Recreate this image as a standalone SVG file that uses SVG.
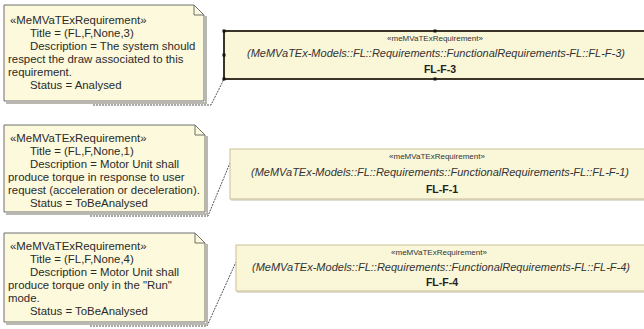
<svg xmlns="http://www.w3.org/2000/svg" width="644" height="329" viewBox="0 0 644 329">
<style>
.note{fill:#fcf9dc;stroke:#6e6e6e;stroke-width:1}
.shadow{fill:none;stroke:#b8b8b0;stroke-width:2}
.fold{fill:none;stroke:#6e6e6e;stroke-width:1}
.nt{font-family:"Liberation Sans",Arial,sans-serif;font-size:11.4px;fill:#2a2a2a}
.box{fill:#faf6d8;stroke:#c9bf95;stroke-width:1}
.bsh{fill:none;stroke:#d6d2c4;stroke-width:1.5}
.boxsel{fill:#faf6d8;stroke:#3a3326;stroke-width:2}
.st{font-family:"Liberation Sans",Arial,sans-serif;font-size:8px;fill:#333;text-anchor:middle}
.it{font-family:"Liberation Sans",Arial,sans-serif;font-size:11px;font-style:italic;fill:#333;text-anchor:middle}
.nm{font-family:"Liberation Sans",Arial,sans-serif;font-size:10.5px;font-weight:bold;fill:#222;text-anchor:middle}
.conn{fill:none;stroke:#555;stroke-width:1;stroke-dasharray:2,1}
.h{fill:#111}
</style>
<g id="connectors">
<polyline class="conn" points="93,105 211,105 224,79"/>
<polyline class="conn" points="90,216 208,216 230,163"/>
<polyline class="conn" points="90,326 207,326 236,262"/>
</g>
<g id="note1">
<path class="shadow" d="M206,16 V103 H6"/>
<path class="note" d="M4,5 H194 L204,15 V101 H4 Z"/>
<path class="fold" d="M194,5 V15 H204"/>
<text class="nt" x="10" y="24">«MeMVaTExRequirement»</text>
<text class="nt" x="30" y="37">Title = (FL,F,None,3)</text>
<text class="nt" x="30" y="50">Description = The system should</text>
<text class="nt" x="8" y="63">respect the draw associated to this</text>
<text class="nt" x="8" y="76">requirement.</text>
<text class="nt" x="30" y="89">Status = Analysed</text>
</g>
<g id="req1">
<rect class="boxsel" x="224" y="31" width="424" height="48"/>
<rect class="h" x="222.5" y="29.5" width="3" height="3"/>
<rect class="h" x="433.5" y="29.5" width="3" height="3"/>
<rect class="h" x="222.5" y="53.5" width="3" height="3"/>
<rect class="h" x="222.5" y="77.5" width="3" height="3"/>
<rect class="h" x="433.5" y="77.5" width="3" height="3"/>
<text class="st" x="435" y="41">«meMVaTExRequirement»</text>
<text class="it" x="436" y="57">(MeMVaTEx-Models::FL::Requirements::FunctionalRequirements-FL::FL-F-3)</text>
<text class="nm" x="440" y="73">FL-F-3</text>
</g>
<g id="note2">
<path class="shadow" d="M207,136 V214 H6"/>
<path class="note" d="M4,125 H195 L205,135 V212 H4 Z"/>
<path class="fold" d="M195,125 V135 H205"/>
<text class="nt" x="10" y="142">«MeMVaTExRequirement»</text>
<text class="nt" x="30" y="155">Title = (FL,F,None,1)</text>
<text class="nt" x="30" y="168">Description = Motor Unit shall</text>
<text class="nt" x="8" y="181">produce torque in response to user</text>
<text class="nt" x="8" y="194">request (acceleration or deceleration).</text>
<text class="nt" x="30" y="207">Status = ToBeAnalysed</text>
</g>
<g id="req2">
<path class="bsh" d="M231,200 H648"/>
<rect class="box" x="230" y="149" width="420" height="50"/>
<text class="st" x="437" y="159">«meMVaTExRequirement»</text>
<text class="it" x="440" y="176">(MeMVaTEx-Models::FL::Requirements::FunctionalRequirements-FL::FL-F-1)</text>
<text class="nm" x="442" y="193">FL-F-1</text>
</g>
<g id="note3">
<path class="shadow" d="M207,244 V324 H6"/>
<path class="note" d="M4,233 H195 L205,243 V322 H4 Z"/>
<path class="fold" d="M195,233 V243 H205"/>
<text class="nt" x="10" y="250">«MeMVaTExRequirement»</text>
<text class="nt" x="30" y="263">Title = (FL,F,None,4)</text>
<text class="nt" x="30" y="276">Description = Motor Unit shall</text>
<text class="nt" x="8" y="289">produce torque only in the "Run"</text>
<text class="nt" x="8" y="302">mode.</text>
<text class="nt" x="30" y="315">Status = ToBeAnalysed</text>
</g>
<g id="req3">
<path class="bsh" d="M237,292 H648"/>
<rect class="box" x="236" y="245" width="414" height="46"/>
<text class="st" x="439" y="255">«meMVaTExRequirement»</text>
<text class="it" x="441" y="271">(MeMVaTEx-Models::FL::Requirements::FunctionalRequirements-FL::FL-F-4)</text>
<text class="nm" x="442" y="286">FL-F-4</text>
</g>
</svg>
